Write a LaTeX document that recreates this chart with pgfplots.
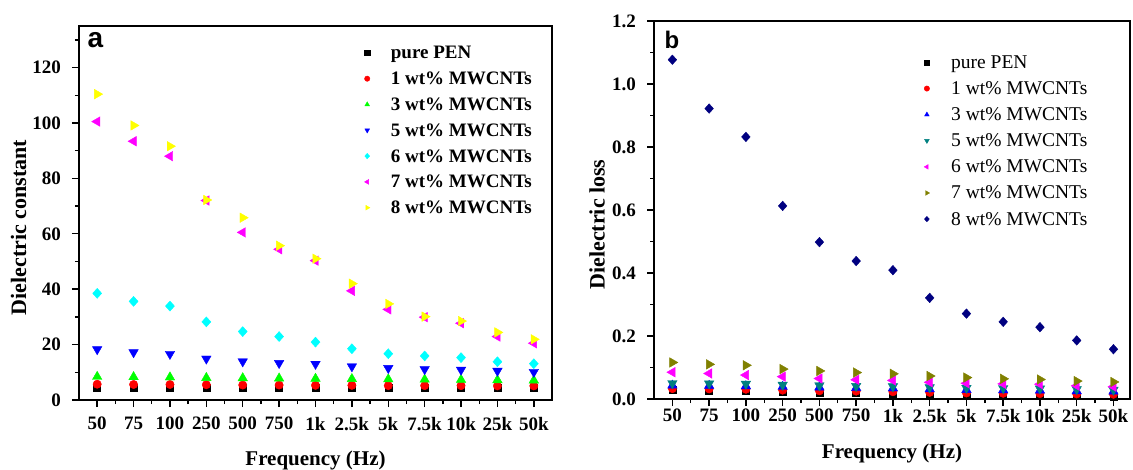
\documentclass[border=0pt]{standalone}
\usepackage{fontspec}
\setmainfont{Liberation Serif}
\newfontfamily\panelfont{Liberation Sans}
\usepackage{pgfplots}
\usepackage{pgfplotstable}
\pgfplotsset{compat=1.18}

\definecolor{ored}{HTML}{FF0000}
\definecolor{ogreen}{HTML}{00FF00}
\definecolor{oblue}{HTML}{0000FF}
\definecolor{ocyan}{HTML}{00FFFF}
\definecolor{omagenta}{HTML}{FF00FF}
\definecolor{oyellow}{HTML}{FFFF00}
\definecolor{oolive}{HTML}{808000}
\definecolor{onavy}{HTML}{000080}
\definecolor{oteal}{HTML}{008080}

% dielectric constant
\pgfplotstableread{
x  p0   p1   p3   p5    p6    p7    p8
0  4.6  5.7  8.4  18.3  38.5  100.5 110.4
1  4.6  5.6  8.3  17.2  35.6  93.4  99.1
2  4.6  5.6  8.2  16.6  33.9  88.0  91.6
3  4.6  5.5  8.0  14.9  28.2  72.0  72.2
4  4.5  5.4  7.9  13.9  24.7  60.5  65.8
5  4.5  5.4  7.8  13.3  22.9  54.4  55.7
6  4.5  5.3  7.7  13.0  20.9  50.3  51.0
7  4.5  5.3  7.6  12.1  18.5  39.4  42.0
8  4.5  5.2  7.5  11.5  16.7  32.7  34.7
9  4.5  5.2  7.4  11.1  15.9  29.9  30.1
10 4.5  5.2  7.3  10.9  15.3  27.7  28.5
11 4.5  5.1  7.2  10.5  13.8  22.9  24.4
12 4.5  5.1  7.1  10.1  13.1  20.5  21.9
}\dataA

% dielectric loss
\pgfplotstableread{
x  p0    p1    p3    p5    p6    p7    p8
0  0.028 0.033 0.043 0.050 0.085 0.116 1.077
1  0.027 0.032 0.042 0.049 0.081 0.110 0.922
2  0.026 0.031 0.041 0.048 0.076 0.107 0.832
3  0.023 0.028 0.039 0.045 0.071 0.095 0.613
4  0.021 0.026 0.037 0.043 0.065 0.089 0.498
5  0.019 0.025 0.035 0.041 0.061 0.084 0.438
6  0.018 0.023 0.034 0.040 0.059 0.080 0.409
7  0.014 0.021 0.031 0.037 0.053 0.073 0.321
8  0.012 0.019 0.029 0.035 0.050 0.068 0.271
9  0.011 0.018 0.028 0.034 0.048 0.064 0.245
10 0.010 0.017 0.027 0.033 0.047 0.062 0.228
11 0.009 0.016 0.025 0.031 0.042 0.057 0.186
12 0.008 0.015 0.024 0.029 0.039 0.054 0.158
}\dataB

\pgfplotsset{
  panel/.style={
    scale only axis,
    axis line style={line width=1.5pt},
    xmin=-0.5,
    xtick={0,...,12},
    minor xtick={0.5,1.5,...,11.5},
    xticklabels={50,75,100,250,500,750,1k,2.5k,5k,7.5k,10k,25k,50k},
    xtick pos=bottom, ytick pos=left,
    tick align=outside,
    major tick length=7pt, minor tick length=4pt,
    every tick/.style={black, line width=1.4pt},
    /pgf/number format/assume math mode=true,
    tick label style={font=\fontsize{19}{22}\selectfont\bfseries, inner sep=0pt},
    xlabel={Frequency (Hz)},
    xlabel style={font=\fontsize{21}{24}\selectfont\bfseries, anchor=center},
    ylabel style={font=\fontsize{22}{25}\selectfont\bfseries, anchor=center},
    legend cell align=left,
    legend style={draw=none, fill=none, inner sep=0pt, anchor=north west,
      nodes={inner sep=0pt, text height=15pt, text depth=3pt}},
  },
}

\begin{document}
\begin{tikzpicture}
\path[use as bounding box] (0,0) rectangle (1133pt,469pt);

\begin{axis}[
  panel,
  at={(79pt,69pt)}, anchor=south west,
  width=473pt, height=374pt,
  xmax=12.5,
  ymin=0, ymax=135,
  ytick={0,20,...,120},
  minor ytick={10,30,...,130},
  xticklabel style={yshift=-10pt},
  yticklabel style={xshift=-11pt},
  ylabel={Dielectric constant},
  xlabel style={at={(axis description cs:0.5,-0.163)}},
  ylabel style={at={(axis description cs:-0.1277,0.461)}},
  legend style={at={(axis description cs:0.5905,0.9527)}, row sep=7.8pt,
    font=\fontsize{19}{22}\selectfont\bfseries},
  legend image code/.code={
    \draw[#1, mark size=2.7pt] plot coordinates {(8.5pt,0pt)};
    \path (0pt,0pt) (32pt,0pt);},
]
\addplot[only marks, mark=square*, black, mark size=3.5pt] table[x=x,y=p0]{\dataA};
\addlegendentry{pure PEN}
\addplot[only marks, mark=*, ored, mark size=4.2pt] table[x=x,y=p1]{\dataA};
\addlegendentry{1 wt\% MWCNTs}
\addplot[only marks, mark=triangle*, ogreen, mark size=5.5pt] table[x=x,y=p3]{\dataA};
\addlegendentry{3 wt\% MWCNTs}
\addplot[only marks, mark=triangle*, oblue, mark size=5.5pt, mark options={rotate=180}] table[x=x,y=p5]{\dataA};
\addlegendentry{5 wt\% MWCNTs}
\addplot[only marks, mark=diamond*, ocyan, mark size=5pt, mark options={xscale=1.2}] table[x=x,y=p6]{\dataA};
\addlegendentry{6 wt\% MWCNTs}
\addplot[only marks, mark=triangle*, omagenta, mark size=5.5pt, mark options={rotate=90}] table[x=x,y=p7]{\dataA};
\addlegendentry{7 wt\% MWCNTs}
\addplot[only marks, mark=triangle*, oyellow, mark size=5.5pt, mark options={rotate=-90}] table[x=x,y=p8]{\dataA};
\addlegendentry{8 wt\% MWCNTs}
\node[font=\fontsize{28}{30}\selectfont\panelfont\bfseries] at (axis description cs:0.0349,0.961) {a};
\end{axis}

\begin{axis}[
  panel,
  at={(654pt,70pt)}, anchor=south west,
  width=476pt, height=378pt,
  xmax=12.45,
  ymin=0, ymax=1.2,
  ytick={0,0.2,0.4,0.6,0.8,1.0,1.2},
  minor ytick={0.1,0.3,0.5,0.7,0.9,1.1},
  xticklabel style={yshift=-3pt},
  yticklabel style={xshift=-11pt, /pgf/number format/.cd, fixed, fixed zerofill, precision=1},
  ylabel={Dielectric loss},
  xlabel style={at={(axis description cs:0.5,-0.143)}},
  ylabel style={at={(axis description cs:-0.1197,0.4616)}},
  legend style={at={(axis description cs:0.5546,0.9146)}, row sep=8.1pt,
    font=\fontsize{19.5}{22}\selectfont},
  legend image code/.code={
    \draw[#1, mark size=2.7pt] plot coordinates {(8.5pt,0pt)};
    \path (0pt,0pt) (32.6pt,0pt);},
]
\addplot[only marks, mark=square*, black, mark size=3.5pt] table[x=x,y=p0]{\dataB};
\addlegendentry{pure PEN}
\addplot[only marks, mark=*, ored, mark size=4.2pt] table[x=x,y=p1]{\dataB};
\addlegendentry{1 wt\% MWCNTs}
\addplot[only marks, mark=triangle*, oblue, mark size=5.5pt] table[x=x,y=p3]{\dataB};
\addlegendentry{3 wt\% MWCNTs}
\addplot[only marks, mark=triangle*, oteal, mark size=5.5pt, mark options={rotate=180}] table[x=x,y=p5]{\dataB};
\addlegendentry{5 wt\% MWCNTs}
\addplot[only marks, mark=triangle*, omagenta, mark size=5.5pt, mark options={rotate=90}] table[x=x,y=p6]{\dataB};
\addlegendentry{6 wt\% MWCNTs}
\addplot[only marks, mark=triangle*, oolive, mark size=5.5pt, mark options={rotate=-90}] table[x=x,y=p7]{\dataB};
\addlegendentry{7 wt\% MWCNTs}
\addplot[only marks, mark=diamond*, onavy, mark size=4.8pt, mark options={xscale=1.2}] table[x=x,y=p8]{\dataB};
\addlegendentry{8 wt\% MWCNTs}
\node[font=\fontsize{24}{26}\selectfont\panelfont\bfseries] at (axis description cs:0.0378,0.951) {b};
\end{axis}
\end{tikzpicture}
\end{document}
